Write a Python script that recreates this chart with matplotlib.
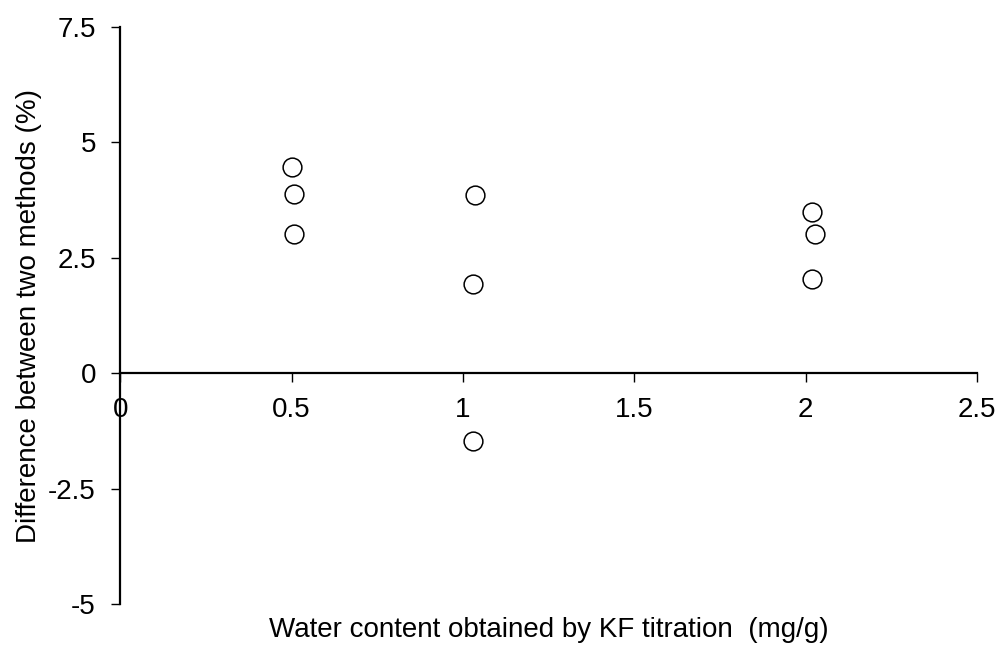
import matplotlib
matplotlib.use("Agg")
import matplotlib.pyplot as plt

plt.rcParams['font.family'] = ['Liberation Sans', 'DejaVu Sans']

# Data
kf_water = [0.50, 0.508, 0.508, 1.034, 1.030, 1.030, 2.018, 2.027, 2.018]
difference = [4.47, 3.89, 3.01, 3.86, 1.94, -1.47, 3.49, 3.01, 2.04]

x_ticks = [0, 0.5, 1, 1.5, 2, 2.5]
x_tick_labels = ["0", "0.5", "1", "1.5", "2", "2.5"]
y_ticks = [-5, -2.5, 0, 2.5, 5, 7.5]
y_tick_labels = ["-5", "-2.5", "0", "2.5", "5", "7.5"]

xlabel = "Water content obtained by KF titration  (mg/g)"
ylabel = "Difference between two methods (%)"

W, H = 1003, 646
fig = plt.figure(figsize=(W / 100, H / 100), dpi=100)
ax_left, ax_right, ax_top, ax_bottom = 120.3, 977, 27, 604
ax = fig.add_axes([ax_left / W, (H - ax_bottom) / H,
                   (ax_right - ax_left) / W, (ax_bottom - ax_top) / H])

ax.plot(kf_water, difference, linestyle='none', marker='o', markersize=13.5,
        markerfacecolor='white', markeredgecolor='black', markeredgewidth=1.1,
        clip_on=False, zorder=3)

ax.set_xlim(0, 2.5)
ax.set_ylim(-5, 7.5)
ax.set_xticks(x_ticks)
ax.set_xticklabels(x_tick_labels)
ax.set_yticks(y_ticks)
ax.set_yticklabels(y_tick_labels)

for s in ['top', 'right']:
    ax.spines[s].set_visible(False)
ax.spines['bottom'].set_position(('data', 0))
ax.spines['left'].set_linewidth(1.6)
ax.spines['bottom'].set_linewidth(1.6)

ax.tick_params(axis='both', direction='out', length=6.5, width=1.0,
               labelsize=20, color='black')
ax.tick_params(axis='x', pad=10.5)
ax.tick_params(axis='y', pad=11)

ax.set_xlabel(xlabel, fontsize=20)
ax.xaxis.label.set_va('baseline')
ax.xaxis.set_label_coords(0.5,
                          ((H - 637) - (H - ax_bottom)) / (ax_bottom - ax_top))

ax.set_ylabel(ylabel, fontsize=20)
ax.yaxis.label.set_va('center')
ax.yaxis.set_label_coords((29 - ax_left) / (ax_right - ax_left),
                          ((H - 316) - (H - ax_bottom)) / (ax_bottom - ax_top))

fig.savefig("out.png", dpi=100, facecolor='white')
